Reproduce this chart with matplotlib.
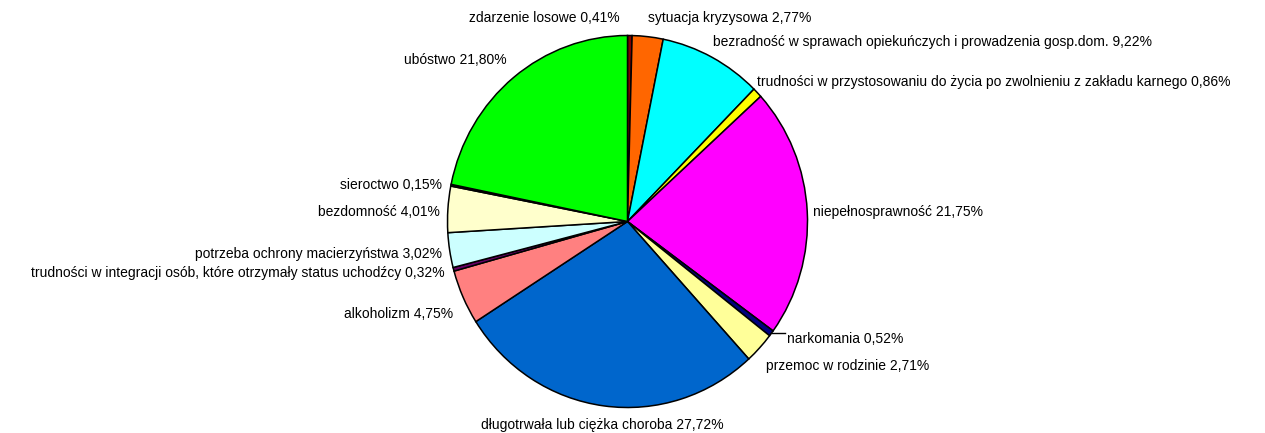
import numpy as np
import matplotlib.pyplot as plt

# dane - powody przyznania pomocy
labels = ["zdarzenie losowe", "sytuacja kryzysowa",
          "bezradność w sprawach opiekuńczych i prowadzenia gosp.dom.",
          "trudności w przystosowaniu do życia po zwolnieniu z zakładu karnego",
          "niepełnosprawność", "narkomania", "przemoc w rodzinie",
          "długotrwała lub ciężka choroba", "alkoholizm",
          "trudności w integracji osób, które otrzymały status uchodźcy",
          "potrzeba ochrony macierzyństwa", "bezdomność", "sieroctwo", "ubóstwo"]
values = [0.41, 2.77, 9.22, 0.86, 21.75, 0.52, 2.71, 27.72, 4.75, 0.32, 3.02, 4.01, 0.15, 21.80]
colors = ["#800000", "#FF6600", "#00FFFF", "#FFFF00", "#FF00FF", "#000080", "#FFFF99",
          "#0066CC", "#FF8080", "#660066", "#CCFFFF", "#FFFFCC", "#1a1a1a", "#00FF00"]

# pozycje etykiet w pikselach (x, y od gory, wyrownanie)
label_pos = [(620, 18, "right"), (648, 18, "left"), (713, 42, "left"), (757, 82, "left"),
             (813, 212, "left"), (787, 339, "left"), (766, 366, "left"), (602, 425, "center"),
             (453, 314, "right"), (445, 273, "right"), (442, 254, "right"), (440, 212, "right"),
             (442, 185, "right"), (507, 60, "right")]

W, H = 1265, 433
cx, cy, rx, ry = 627.5, 221.5, 180, 186

plt.rcParams['font.family'] = ['Liberation Sans', 'DejaVu Sans']
fig = plt.figure(figsize=(W / 100, H / 100), dpi=100)
ax = fig.add_axes([(cx - rx) / W, (H - cy - ry) / H, 2 * rx / W, 2 * ry / H])

wedges, _ = ax.pie(values, colors=colors, startangle=90, counterclock=False,
                   wedgeprops=dict(edgecolor="black", linewidth=1.1))
ax.set_aspect("auto")
ax.set_xlim(-1, 1)
ax.set_ylim(-1, 1)
ax.axis("off")

for lab, v, (px, py, ha) in zip(labels, values, label_pos):
    pct = f"{v:.2f}".replace(".", ",")
    fig.text(px / W, 1 - py / H, f"{lab} {pct}%", ha=ha, va="center",
             fontsize=10, color="black")

# linia odniesienia dla narkomanii
i = labels.index("narkomania")
w = wedges[i]
ang = np.deg2rad((w.theta1 + w.theta2) / 2)
x0, y0 = np.cos(ang), np.sin(ang)
px, py, _ = label_pos[i]
x1 = (px - 2 - cx) / rx
ax.plot([x0, x1], [y0, y0], color="black", linewidth=1, clip_on=False)

fig.savefig("out.png", dpi=100)
